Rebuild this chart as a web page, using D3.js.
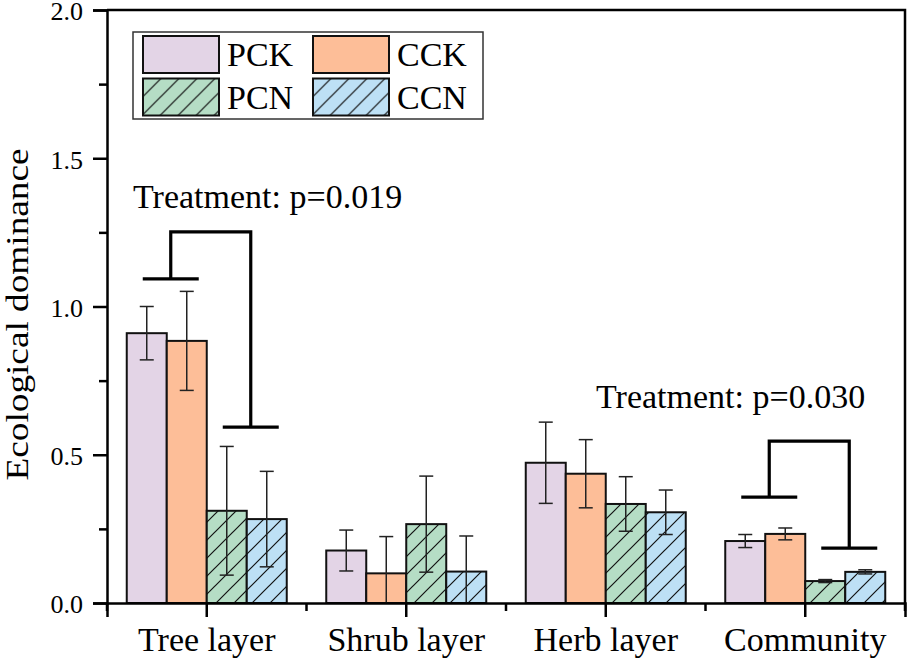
<!DOCTYPE html>
<html>
<head>
<meta charset="utf-8">
<script src="https://cdn.jsdelivr.net/npm/d3@7"></script>
<style>
  body { margin: 0; background: #fff; }
  svg text { font-family: "Liberation Serif", "Times New Roman", serif; }
</style>
</head>
<body>
<div id="chart-area"></div>
<script>
// Data
var categories = ["Tree layer", "Shrub layer", "Herb layer", "Community"];
var series = ["PCK", "CCK", "PCN", "CCN"];
var meanPCK = [0.910, 0.177, 0.473, 0.209];
var meanCCK = [0.884, 0.100, 0.436, 0.233];
var meanPCN = [0.311, 0.266, 0.334, 0.074];
var meanCCN = [0.283, 0.106, 0.306, 0.105];
var errPCK = [0.090, 0.069, 0.137, 0.022];
var errCCK = [0.167, 0.124, 0.115, 0.020];
var errPCN = [0.217, 0.162, 0.092, 0.005];
var errCCN = [0.161, 0.120, 0.075, 0.007];
var yTicks = [0, 0.5, 1.0, 1.5, 2.0];
var yMinorTicks = [0.25, 0.75, 1.25, 1.75];
// significance brackets: heights in data units
var brackets = [
    { cat: "Tree layer", left: 1.093, top: 1.252, right: 0.593, label: "Treatment: p=0.019" },
    { cat: "Community",  left: 0.357, top: 0.546, right: 0.185, label: "Treatment: p=0.030" }
];

var colors = { PCK: "#e3d4e6", CCK: "#fdbe98", PCN: "#b5ddc5", CCN: "#bde0f5" };
var hatched = { PCK: false, CCK: false, PCN: true, CCN: true };
var means = { PCK: meanPCK, CCK: meanCCK, PCN: meanPCN, CCN: meanCCN };
var errs = { PCK: errPCK, CCK: errCCK, PCN: errPCN, CCN: errCCN };

var serif = "'Liberation Serif', 'Times New Roman', serif";

var margin = { left: 107, right: 4, top: 10, bottom: 57 },
    width = 909 - margin.left - margin.right,
    height = 660 - margin.top - margin.bottom;

var svg = d3.select("#chart-area").append("svg")
    .attr("width", 909)
    .attr("height", 660)
    .attr("font-family", serif);

// hatch patterns
var defs = svg.append("defs");
series.forEach(function(s) {
    var p = defs.append("pattern")
        .attr("id", "hatch-" + s)
        .attr("patternUnits", "userSpaceOnUse")
        .attr("width", 18).attr("height", 18);
    p.append("rect").attr("width", 18).attr("height", 18).attr("fill", colors[s]);
    p.append("path")
        .attr("d", "M-4.5,4.5L4.5,-4.5M0,18L18,0M13.5,22.5L22.5,13.5")
        .attr("stroke", "#111").attr("stroke-width", 1.2);
});
function fillOf(s) { return hatched[s] ? "url(#hatch-" + s + ")" : colors[s]; }

var g = svg.append("g")
    .attr("transform", "translate(" + margin.left + "," + margin.top + ")");

// Scales
var x = d3.scaleBand().domain(categories).range([0, width]).padding(0);
var barW = 40;
var x1 = d3.scaleBand().domain(series).range([0, barW * series.length]);
var inset = (x.bandwidth() - barW * series.length) / 2;
var y = d3.scaleLinear().domain([0, 2]).range([height, 0]);

// Bars
var rows = [];
categories.forEach(function(c, i) {
    series.forEach(function(s) {
        rows.push({ cat: c, s: s, v: means[s][i], e: errs[s][i] });
    });
});

g.selectAll(".bar").data(rows).enter().append("rect")
    .attr("class", "bar")
    .attr("x", function(d){ return x(d.cat) + inset + x1(d.s); })
    .attr("y", function(d){ return y(d.v); })
    .attr("width", x1.bandwidth())
    .attr("height", function(d){ return height - y(d.v); })
    .attr("fill", function(d){ return fillOf(d.s); })
    .attr("stroke", "#111")
    .attr("stroke-width", 2);

// Error bars
var eg = g.selectAll(".err").data(rows).enter().append("g")
    .attr("class", "err")
    .attr("stroke", "#222")
    .attr("stroke-width", 1.5);
function cx(d) { return x(d.cat) + inset + x1(d.s) + x1.bandwidth() / 2; }
eg.append("line")
    .attr("x1", cx).attr("x2", cx)
    .attr("y1", function(d){ return y(d.v + d.e); })
    .attr("y2", function(d){ return y(Math.max(0, d.v - d.e)); });
eg.append("line")
    .attr("x1", function(d){ return cx(d) - 7; })
    .attr("x2", function(d){ return cx(d) + 7; })
    .attr("y1", function(d){ return y(d.v + d.e); })
    .attr("y2", function(d){ return y(d.v + d.e); });
eg.filter(function(d){ return d.v - d.e > 0; }).append("line")
    .attr("x1", function(d){ return cx(d) - 7; })
    .attr("x2", function(d){ return cx(d) + 7; })
    .attr("y1", function(d){ return y(d.v - d.e); })
    .attr("y2", function(d){ return y(d.v - d.e); });

// Frame (top and right)
g.append("path")
    .attr("d", "M0,0H" + width + "V" + height)
    .attr("fill", "none").attr("stroke", "#000").attr("stroke-width", 2.5);

// Y axis
g.append("g").attr("class", "y axis")
    .call(d3.axisLeft(y).tickValues(yTicks).tickSize(14).tickPadding(10)
        .tickFormat(d3.format(".1f")));
g.append("g").attr("class", "y axis minor")
    .call(d3.axisLeft(y).tickValues(yMinorTicks).tickSize(8).tickFormat(""));

// X axis
g.append("g").attr("class", "x axis")
    .attr("transform", "translate(0," + height + ")")
    .call(d3.axisBottom(x).tickSize(14).tickPadding(10));
var bounds = categories.map(function(c){ return x(c); }).concat([x.range()[1]]);
g.append("g").attr("class", "x axis minor")
    .attr("transform", "translate(0," + height + ")")
    .selectAll("line").data(bounds).enter().append("line")
    .attr("x1", function(d){ return d; }).attr("x2", function(d){ return d; })
    .attr("y1", 0).attr("y2", 8);

g.selectAll(".axis").attr("font-family", serif);
g.selectAll(".axis path, .axis line").attr("stroke", "#000").attr("stroke-width", 2.5);
g.selectAll(".minor .domain").remove();
g.selectAll(".y.axis text").attr("font-size", "26px").attr("fill", "#000")
    .attr("dy", "0.38em");
g.selectAll(".x.axis text").attr("font-size", "34px").attr("fill", "#000");

// Y label
svg.append("text")
    .attr("transform", "translate(28," + (margin.top + height / 2 + 8) + ") rotate(-90)")
    .attr("text-anchor", "middle")
    .attr("font-size", "32px")
    .attr("textLength", 332)
    .attr("lengthAdjust", "spacingAndGlyphs")
    .text("Ecological dominance");

// Significance brackets
var labelPos = { "Tree layer": { x: 26, y: 198 }, "Community": { x: 489, y: 398 } };
brackets.forEach(function(b) {
    var lc = x(b.cat) + inset + x1("CCK") + 4;
    var rc = x(b.cat) + inset + x1("CCN") + 4;
    var bg = g.append("g").attr("stroke", "#000").attr("stroke-width", 3.2).attr("fill", "none");
    bg.append("line").attr("x1", lc - 28).attr("x2", lc + 28).attr("y1", y(b.left)).attr("y2", y(b.left));
    bg.append("line").attr("x1", rc - 28).attr("x2", rc + 28).attr("y1", y(b.right)).attr("y2", y(b.right));
    bg.append("path").attr("d", "M" + lc + "," + y(b.left) + "V" + y(b.top) + "H" + rc + "V" + y(b.right));
    g.append("text")
        .attr("x", labelPos[b.cat].x).attr("y", labelPos[b.cat].y)
        .attr("font-size", "34px")
        .text(b.label);
});

// Legend
var legend = svg.append("g").attr("transform", "translate(133,32)");
legend.append("rect")
    .attr("width", 350).attr("height", 87)
    .attr("fill", "#fff").attr("stroke", "#333").attr("stroke-width", 1.5);
series.forEach(function(s, i) {
    var col = i % 2, row = Math.floor(i / 2);
    var item = legend.append("g")
        .attr("transform", "translate(" + (10 + col * 170) + "," + (4 + row * 42.5) + ")");
    item.append("rect")
        .attr("width", 76).attr("height", 37)
        .attr("fill", fillOf(s)).attr("stroke", "#111").attr("stroke-width", 2);
    item.append("text")
        .attr("x", 84).attr("y", 30)
        .attr("font-size", "34px")
        .text(s);
});
</script>
</body>
</html>
